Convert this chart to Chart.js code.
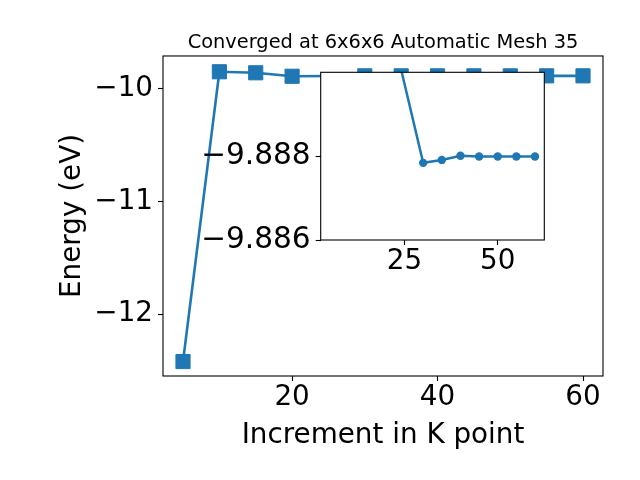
<!DOCTYPE html>
<html>
<head>
<meta charset="utf-8">
<script src="https://cdn.jsdelivr.net/npm/chart.js@4"></script>
<style>
    html, body { margin: 0; padding: 0; background: #ffffff; }
    #wrap { position: relative; width: 640px; height: 480px; }
    #wrap canvas { position: absolute; left: 0; top: 0; }
</style>
</head>
<body>
<div id="wrap">
    <canvas id="mainChart" width="640" height="480"></canvas>
    <canvas id="insetChart" width="640" height="480"></canvas>
</div>
<script>
// data
const kPoints = [5, 10, 15, 20, 30, 35, 40, 45, 50, 55, 60];
const energies = [-12.42, -9.852, -9.861, -9.8916, -9.88784, -9.88791, -9.88801, -9.88799, -9.88799, -9.88799, -9.88799];

// the inset only plots from 20 onwards
const insetKPoints = [20, 30, 35, 40, 45, 50, 55, 60];
const insetEnergies = [-9.8916, -9.88784, -9.88791, -9.88801, -9.88799, -9.88799, -9.88799, -9.88799];

const titleText = 'Converged at 6x6x6 Automatic Mesh 35';
const xLabel = 'Increment in K point';
const yLabel = 'Energy (eV)';

const mainXTicks = [20, 40, 60];
const mainYTicks = [-12, -11, -10];
const insetXTicks = [25, 50];
const insetYTicks = [-9.888, -9.886];

const blue = '#1f77b4';
const FONT = 'DejaVu Sans';
const big = 27.8;

Chart.defaults.font.family = FONT;
Chart.defaults.color = '#000000';

// matplotlib style minus sign
function fmt(v, digits) {
    const s = Math.abs(v).toFixed(digits);
    return v < 0 ? '\u2212' + s : s;
}

function toPoints(xs, ys) {
    return xs.map((k, i) => ({ x: k, y: ys[i] }));
}

// white box behind the plot area + black frame on top
const framePlugin = {
    id: 'frame',
    beforeDraw(chart, args, opts) {
        if (!opts.fill) return;
        const a = chart.chartArea;
        const ctx = chart.ctx;
        ctx.save();
        ctx.fillStyle = '#ffffff';
        ctx.fillRect(a.left, a.top, a.right - a.left, a.bottom - a.top);
        ctx.restore();
    },
    afterDatasetsDraw(chart) {
        const a = chart.chartArea;
        const ctx = chart.ctx;
        ctx.save();
        ctx.strokeStyle = '#000000';
        ctx.lineWidth = 1.1;
        ctx.strokeRect(a.left, a.top, a.right - a.left, a.bottom - a.top);
        ctx.restore();
    }
};

function tickGrid() {
    return {
        display: true,
        drawOnChartArea: false,
        drawTicks: true,
        tickLength: 5,
        tickColor: '#000000',
        tickWidth: 1.1
    };
}

// main chart
new Chart(document.getElementById('mainChart'), {
    type: 'line',
    data: {
        datasets: [{
            data: toPoints(kPoints, energies),
            borderColor: blue,
            backgroundColor: blue,
            borderWidth: 2.6,
            pointStyle: 'rect',
            pointRadius: 10,
            pointBorderWidth: 1,
            pointBorderColor: blue,
            pointBackgroundColor: blue,
            tension: 0
        }]
    },
    options: {
        responsive: false,
        animation: false,
        events: [],
        layout: { padding: { top: 0, right: 37, bottom: 0, left: 0 } },
        plugins: {
            legend: { display: false },
            tooltip: { enabled: false },
            title: {
                display: true,
                text: titleText,
                fullSize: false,
                font: { size: 19.4, weight: 'normal' },
                color: '#000000',
                padding: { top: 31.6, bottom: 1.1 }
            },
            frame: { fill: false }
        },
        scales: {
            x: {
                type: 'linear',
                min: 2.25,
                max: 62.75,
                afterFit: s => { s.height = 104; },
                afterBuildTicks: s => { s.ticks = mainXTicks.map(v => ({ value: v })); },
                grid: tickGrid(),
                border: { display: false },
                ticks: { font: { size: big }, padding: 0, callback: v => fmt(v, 0) },
                title: { display: true, text: xLabel, font: { size: big }, padding: { top: 0, bottom: 27.6 } }
            },
            y: {
                type: 'linear',
                min: -12.548,
                max: -9.712,
                afterFit: s => { s.width = 163; },
                afterBuildTicks: s => { s.ticks = mainYTicks.map(v => ({ value: v })); },
                grid: tickGrid(),
                border: { display: false },
                ticks: { font: { size: big }, padding: 5, callback: v => fmt(v, 0) },
                title: { display: true, text: yLabel, font: { size: big }, padding: { top: 56, bottom: 0 } }
            }
        }
    },
    plugins: [framePlugin]
});

// inset zoom on the converged region (y axis runs downwards, as in the reference)
new Chart(document.getElementById('insetChart'), {
    type: 'line',
    data: {
        datasets: [{
            data: toPoints(insetKPoints, insetEnergies),
            borderColor: blue,
            backgroundColor: blue,
            borderWidth: 2.5,
            pointStyle: 'circle',
            pointRadius: 4.2,
            pointBorderWidth: 0,
            pointBackgroundColor: blue,
            tension: 0
        }]
    },
    options: {
        responsive: false,
        animation: false,
        events: [],
        layout: { padding: { top: 72.3, right: 95.7, bottom: 0, left: 0 } },
        plugins: {
            legend: { display: false },
            tooltip: { enabled: false },
            title: { display: false },
            frame: { fill: true }
        },
        scales: {
            x: {
                type: 'linear',
                min: 2.5,
                max: 62.5,
                afterFit: s => { s.height = 240; },
                afterBuildTicks: s => { s.ticks = insetXTicks.map(v => ({ value: v })); },
                grid: tickGrid(),
                border: { display: false },
                ticks: { font: { size: big }, padding: 0, callback: v => fmt(v, 0) }
            },
            y: {
                type: 'linear',
                min: -9.890,
                max: -9.886,
                reverse: true,
                afterFit: s => { s.width = 320.7; },
                afterBuildTicks: s => { s.ticks = insetYTicks.map(v => ({ value: v })); },
                grid: tickGrid(),
                border: { display: false },
                ticks: { font: { size: 29.6 }, padding: 5, callback: v => fmt(v, 3) }
            }
        }
    },
    plugins: [framePlugin]
});
</script>
</body>
</html>
